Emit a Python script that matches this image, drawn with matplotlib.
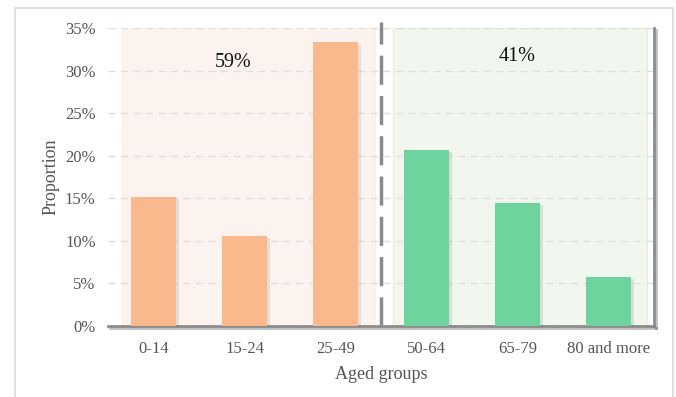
import matplotlib.pyplot as plt
import matplotlib.patheffects as pe
from matplotlib.patches import Rectangle
from matplotlib.ticker import PercentFormatter

# data
groups = ['0-14', '15-24', '25-49', '50-64', '65-79', '80 and more']
proportion = [15.2, 10.6, 33.3, 20.7, 14.4, 5.8]
young_share = '59%'
old_share = '41%'

plt.rcParams['font.family'] = ['Liberation Serif', 'DejaVu Serif']

fig = plt.figure(figsize=(6.76, 3.97), dpi=100)
# light frame around the whole card
fig.patches.append(Rectangle((15 / 676, -0.1), 658 / 676, 1.1 - 8 / 397,
                             transform=fig.transFigure, fill=False,
                             edgecolor='#dcdcdc', linewidth=1.2, zorder=0))

ax = fig.add_axes([0.16, 0.179, 0.8075, 0.7505])

# shaded blocks behind the two groups
ax.axvspan(-0.35, 2.43, ymin=0, ymax=1, facecolor='#fdf3ee', edgecolor='#fbeee6',
           linewidth=1, zorder=0)
ax.axvspan(2.63, 5.42, ymin=0, ymax=1, facecolor='#f1f7ee', edgecolor='#e3f1dc',
           linewidth=1, zorder=0)

colors = ['#f9b98c'] * 3 + ['#6dd49e'] * 3
bars = ax.bar(range(len(groups)), proportion, width=0.5, color=colors, zorder=3)
for b in bars:
    b.set_path_effects([pe.SimplePatchShadow(offset=(2, -1.5), alpha=0.12), pe.Normal()])

ax.vlines(2.5, 0, 35.7, colors='#8a8a8a', linestyles=(0, (8.4, 3.2)), linewidth=2.5,
          clip_on=False, zorder=4)

ax.text(0.87, 31.0, young_share, ha='center', va='center', fontsize=14.5, color='#111111')
ax.text(4.0, 31.6, old_share, ha='center', va='center', fontsize=14.5, color='#111111')

ax.set_xlim(-0.5, 5.5)
ax.set_ylim(0, 35)
ax.set_yticks(range(0, 36, 5))
ax.yaxis.set_major_formatter(PercentFormatter(decimals=0))
ax.set_xticks(range(len(groups)))
ax.set_xticklabels(groups)
ax.tick_params(length=0, labelsize=12, labelcolor='#555555', pad=11)
ax.tick_params(axis='y', pad=9)
ax.grid(axis='y', color='#dedede', linestyle=(0, (5, 4)), linewidth=1, zorder=1)
ax.set_axisbelow(True)

ax.set_xlabel('Aged groups', fontsize=13, color='#555555', labelpad=6)
ax.set_ylabel('Proportion', fontsize=13, color='#555555', labelpad=4)

for s in ['top', 'left']:
    ax.spines[s].set_visible(False)
for s in ['bottom', 'right']:
    ax.spines[s].set_color('#8c8c8c')
    ax.spines[s].set_linewidth(2)
    ax.spines[s].set_path_effects([pe.SimpleLineShadow(offset=(1.5, -1.5), alpha=0.25), pe.Normal()])

fig.savefig('out.png', dpi=100)
